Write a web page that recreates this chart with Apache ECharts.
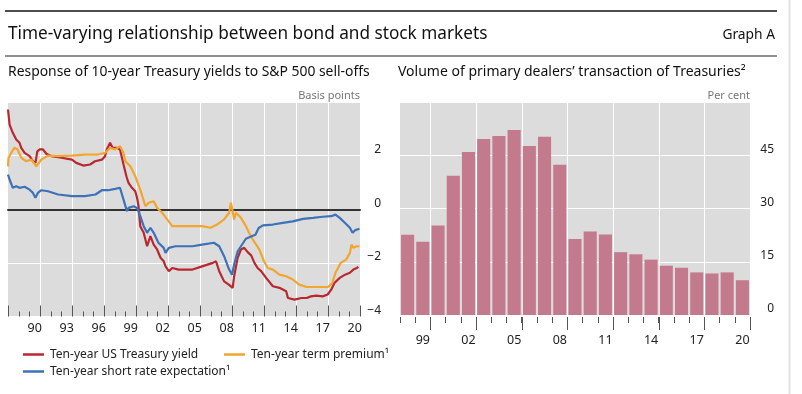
<!DOCTYPE html>
<html><head><meta charset="utf-8">
<script src="https://cdn.jsdelivr.net/npm/echarts@6/dist/echarts.min.js"></script>
<style>html,body{margin:0;padding:0;background:#fff}#c{width:802px;height:394px}</style>
</head><body><div id="c"></div><script>
// ---- Left panel data: [year, basis points] ----
const treasuryYield = [[1988.0,3.72],[1988.15,3.16],[1988.45,2.85],[1988.77,2.6],[1989.08,2.48],[1989.24,2.29],[1989.56,2.1],[1990.03,1.98],[1990.34,1.79],[1990.57,1.73],[1990.75,2.16],[1990.97,2.23],[1991.28,2.23],[1991.6,2.07],[1992.08,1.98],[1993.0,1.92],[1994.0,1.85],[1994.4,1.73],[1995.06,1.63],[1995.7,1.67],[1996.16,1.79],[1996.8,1.85],[1997.1,1.98],[1997.26,2.23],[1997.57,2.48],[1997.8,2.29],[1998.2,2.29],[1998.5,2.23],[1998.83,1.67],[1999.1,1.23],[1999.3,0.98],[1999.62,0.8],[1999.93,0.67],[2000.1,0.43],[2000.24,0.11],[2000.4,-0.63],[2000.72,-0.88],[2001.04,-1.38],[2001.35,-1.0],[2001.66,-1.32],[2001.98,-1.5],[2002.3,-1.81],[2002.6,-1.94],[2002.77,-2.13],[2003.08,-2.31],[2003.4,-2.19],[2004.0,-2.25],[2005.3,-2.25],[2006.2,-2.13],[2007.2,-2.0],[2007.5,-1.94],[2007.8,-2.31],[2008.26,-2.69],[2008.7,-2.81],[2009.06,-2.93],[2009.2,-2.5],[2009.53,-1.81],[2009.84,-1.5],[2010.15,-1.44],[2010.47,-1.6],[2010.8,-1.72],[2011.1,-2.0],[2011.4,-2.19],[2011.73,-2.31],[2012.2,-2.56],[2012.83,-2.87],[2013.45,-2.93],[2014.08,-3.06],[2014.24,-3.31],[2014.87,-3.37],[2015.5,-3.31],[2016.0,-3.31],[2016.4,-3.25],[2016.9,-3.22],[2017.5,-3.25],[2017.97,-3.18],[2018.3,-3.0],[2018.6,-2.75],[2019.1,-2.56],[2019.6,-2.44],[2020.05,-2.37],[2020.38,-2.25],[2020.7,-2.19],[2020.85,-2.15]];
const termPremium = [[1988.0,1.6],[1988.05,1.92],[1988.3,2.1],[1988.6,2.29],[1988.9,2.23],[1989.25,1.92],[1989.7,1.79],[1990.2,1.85],[1990.66,1.6],[1991.13,1.85],[1991.75,2.0],[1992.7,1.98],[1994.0,2.0],[1995.2,2.04],[1996.47,2.04],[1997.1,2.1],[1997.57,2.29],[1998.05,2.23],[1998.5,2.35],[1998.83,2.1],[1999.0,1.79],[1999.47,1.6],[1999.93,1.23],[2000.4,0.73],[2000.88,0.11],[2001.2,0.24],[2001.66,0.3],[2001.98,0.05],[2002.45,-0.13],[2002.92,-0.38],[2003.4,-0.63],[2004.65,-0.63],[2006.2,-0.63],[2007.0,-0.69],[2007.6,-0.57],[2008.26,-0.38],[2008.73,-0.13],[2008.9,0.24],[2009.06,-0.07],[2009.2,-0.38],[2009.37,-0.13],[2009.84,-0.32],[2010.3,-0.63],[2010.6,-0.88],[2010.9,-1.1],[2011.56,-1.5],[2012.0,-1.94],[2012.36,-2.19],[2012.83,-2.25],[2013.45,-2.44],[2014.08,-2.5],[2014.7,-2.62],[2015.3,-2.81],[2016.0,-2.9],[2016.6,-2.9],[2017.2,-2.9],[2018.0,-2.9],[2018.4,-2.75],[2018.7,-2.37],[2019.2,-2.0],[2019.7,-1.88],[2020.05,-1.63],[2020.2,-1.32],[2020.38,-1.44],[2020.7,-1.38],[2020.95,-1.38]];
const shortRate = [[1988.0,1.29],[1988.15,1.11],[1988.45,0.8],[1988.77,0.86],[1989.08,0.8],[1989.56,0.84],[1990.03,0.73],[1990.34,0.61],[1990.57,0.43],[1990.8,0.61],[1991.13,0.71],[1991.75,0.67],[1992.7,0.55],[1994.0,0.49],[1995.2,0.49],[1996.2,0.55],[1996.8,0.71],[1997.4,0.71],[1998.05,0.76],[1998.5,0.8],[1998.83,0.36],[1999.15,-0.07],[1999.3,0.05],[1999.78,0.11],[2000.1,0.05],[2000.4,-0.26],[2000.72,-0.63],[2001.04,-0.88],[2001.35,-0.69],[2001.66,-0.88],[2002.1,-1.25],[2002.6,-1.44],[2002.77,-1.63],[2003.08,-1.44],[2003.7,-1.38],[2005.3,-1.38],[2006.2,-1.32],[2007.3,-1.25],[2007.8,-1.38],[2008.26,-1.75],[2008.73,-2.25],[2009.0,-2.44],[2009.2,-2.06],[2009.53,-1.57],[2009.84,-1.38],[2010.3,-1.1],[2010.9,-1.0],[2011.2,-0.95],[2011.5,-0.7],[2011.9,-0.6],[2012.83,-0.57],[2013.77,-0.51],[2014.7,-0.45],[2015.66,-0.36],[2016.6,-0.32],[2017.5,-0.28],[2018.3,-0.26],[2018.7,-0.2],[2019.1,-0.32],[2019.6,-0.51],[2020.05,-0.69],[2020.3,-0.88],[2020.55,-0.78],[2020.95,-0.73]];
// ---- Right panel data ----
const barYears = ['1998','1999','2000','2001','2002','2003','2004','2005','2006','2007','2008','2009','2010','2011','2012','2013','2014','2015','2016','2017','2018','2019','2020'];
const dealerVolume = [22.6,20.6,25.2,39.2,45.9,49.6,50.4,52.1,47.6,50.2,42.3,21.4,23.5,22.7,17.7,17.1,15.6,13.9,13.3,12.0,11.7,12.0,9.8];
// ---- Tick labels / tick positions ----
const leftYearLabels = [1990,1993,1996,1999,2002,2005,2008,2011,2014,2017,2020];
const leftMajorTicks = [1988,1991,1994,1997,2000,2003,2006,2009,2012,2015,2018,2021];
const leftMinorTicks = [1988,1989,1990,1991,1992,1993,1994,1995,1996,1997,1998,1999,2000,2001,2002,2003,2004,2005,2006,2007,2008,2009,2010,2011,2012,2013,2014,2015,2016,2017,2018,2019,2020,2021];
const rightLabelYears = ['1999','2002','2005','2008','2011','2014','2017','2020'];
const rightMajorBounds = [2,5,8,11,14,17,20,23];

const FONT = 'Noto Sans';
const fmtNeg = v => (v < 0 ? '\u2212' + (-v) : String(v));
const chart = echarts.init(document.getElementById('c'), null, {renderer: 'canvas'});
const names = ['Ten-year US Treasury yield', 'Ten-year term premium\u00b9', 'Ten-year short rate expectation\u00b9'];
const lg = (name, left, top) => ({
  data: [name], left: left, top: top, orient: 'horizontal', selectedMode: false,
  icon: 'rect', itemWidth: 21, itemHeight: 2.5, itemGap: 0,
  textStyle: {fontFamily: FONT, fontSize: 12, color: '#222', padding: [0, 0, 0, 1]}
});
const baseX = {type: 'value', gridIndex: 0, min: 1988, max: 2021, position: 'bottom',
  axisLine: {show: false, onZero: false}, axisLabel: {show: false}, splitLine: {show: false}, axisTick: {show: false}};

const staticGraphics = [
  {type: 'line', shape: {x1: 5, y1: 11, x2: 777, y2: 11}, style: {stroke: '#111', lineWidth: 1.5}},
  {type: 'text', x: 8, y: 34, style: {text: 'Time-varying relationship between bond and stock markets', fontFamily: FONT, fontSize: 17.2, fill: '#111', textVerticalAlign: 'middle'}},
  {type: 'text', x: 775, y: 35, style: {text: 'Graph A', fontFamily: FONT, fontSize: 13.8, fill: '#111', textAlign: 'right', textVerticalAlign: 'middle'}},
  {type: 'line', shape: {x1: 5, y1: 56, x2: 777, y2: 56}, style: {stroke: '#222', lineWidth: 1}},
  {type: 'text', x: 8, y: 72, style: {text: 'Response of 10-year Treasury yields to S&P 500 sell-offs', fontFamily: FONT, fontSize: 13.9, fill: '#111', textVerticalAlign: 'middle'}},
  {type: 'text', x: 398, y: 72, style: {text: 'Volume of primary dealers\u2019 transaction of Treasuries\u00b2', fontFamily: FONT, fontSize: 14, fill: '#111', textVerticalAlign: 'middle'}},
  {type: 'text', x: 360, y: 96, style: {text: 'Basis points', fontFamily: FONT, fontSize: 11, fill: '#777', textAlign: 'right', textVerticalAlign: 'middle'}},
  {type: 'text', x: 750, y: 96, style: {text: 'Per cent', fontFamily: FONT, fontSize: 11, fill: '#777', textAlign: 'right', textVerticalAlign: 'middle'}},
  {type: 'line', shape: {x1: 789.5, y1: 0, x2: 789.5, y2: 394}, style: {stroke: '#E2E2E2', lineWidth: 2}}
];

chart.setOption({
  animation: false,
  textStyle: {fontFamily: FONT},
  grid: [
    {left: 8, right: 442, top: 102, bottom: 77.5, show: true, backgroundColor: '#DCDCDC', borderWidth: 0},
    {left: 400, right: 52, top: 102, bottom: 79, show: true, backgroundColor: '#DCDCDC', borderWidth: 0}
  ],
  xAxis: [
    Object.assign({}, baseX),
    Object.assign({}, baseX, {axisLabel: {show: true, customValues: leftYearLabels.map(y => y + 0.5), margin: 5,
      formatter: v => String(Math.floor(v)).slice(2), color: '#222', fontSize: 12.5}}),
    Object.assign({}, baseX, {z: 1.5, axisLine: {show: true, onZero: true, lineStyle: {color: '#333', width: 2}}}),
    {type: 'category', gridIndex: 1, data: barYears, boundaryGap: true, position: 'bottom', offset: 2,
      axisLine: {show: false, onZero: false},
      axisTick: {show: true, interval: 0, length: 6, lineStyle: {color: '#555'}},
      axisLabel: {show: true, interval: (i, v) => rightLabelYears.indexOf(v) >= 0, formatter: v => v.slice(2), margin: 17, color: '#222', fontSize: 12.5},
      splitLine: {show: false}}
  ],
  yAxis: [
    {type: 'value', gridIndex: 0, min: -4, max: 4, interval: 2, position: 'right',
      axisLine: {show: false, onZero: false}, axisTick: {show: false},
      splitLine: {show: true, lineStyle: {color: '#fff', width: 1}},
      axisLabel: {align: 'right', verticalAlign: 'bottom', margin: 21, color: '#222', fontSize: 12,
        formatter: v => (v === 4 ? '' : fmtNeg(v))}},
    {type: 'value', gridIndex: 1, min: 0, max: 60, interval: 15, position: 'right',
      axisLine: {show: false, onZero: false}, axisTick: {show: false},
      splitLine: {show: true, lineStyle: {color: '#fff', width: 1}},
      axisLabel: {align: 'right', verticalAlign: 'bottom', margin: 24, color: '#222', fontSize: 12,
        formatter: v => (v === 60 ? '' : String(v))}}
  ],
  legend: [lg(names[0], 18, 343.5), lg(names[1], 219, 343.5), lg(names[2], 18, 360.5)],
  series: [
    {name: names[0], type: 'line', xAxisIndex: 0, yAxisIndex: 0, z: 2, data: treasuryYield, showSymbol: false, color: '#B8282E', lineStyle: {width: 2.2, color: '#B8282E'}},
    {name: names[1], type: 'line', xAxisIndex: 0, yAxisIndex: 0, z: 2, data: termPremium, showSymbol: false, color: '#F2A52F', lineStyle: {width: 2.2, color: '#F2A52F'}},
    {name: names[2], type: 'line', xAxisIndex: 0, yAxisIndex: 0, z: 2, data: shortRate, showSymbol: false, color: '#3E72B8', lineStyle: {width: 2.2, color: '#3E72B8'}},
    {name: 'Volume', type: 'bar', xAxisIndex: 3, yAxisIndex: 1, z: 2, data: dealerVolume, barCategoryGap: '14%', itemStyle: {color: '#C47A8D'}}
  ],
  graphic: staticGraphics
});

// Tick marks and vertical grid lines, positioned through the chart's own axis scales
const gfx = [];
try {
  const L = {xAxisIndex: 0, yAxisIndex: 0};
  const leftFirst = leftMinorTicks[0], leftLast = leftMinorTicks[leftMinorTicks.length - 1];
  leftMinorTicks.forEach(yr => {
    const pb = chart.convertToPixel(L, [yr, -4]);
    const pt = chart.convertToPixel(L, [yr, 4]);
    const x = Math.round(pb[0]) + 0.5;
    const major = leftMajorTicks.indexOf(yr) >= 0;
    if (major && yr > leftFirst && yr < leftLast) {
      gfx.push({type: 'line', z: 1, silent: true, shape: {x1: x, y1: pt[1], x2: x, y2: pb[1]}, style: {stroke: '#fff', lineWidth: 1}});
    }
    gfx.push({type: 'line', z: 3, silent: true, shape: {x1: x, y1: pb[1], x2: x, y2: pb[1] - (major ? 11 : 5)}, style: {stroke: '#555', lineWidth: 1}});
  });
  const R = {xAxisIndex: 3, yAxisIndex: 1};
  const p0 = chart.convertToPixel(R, [barYears[0], 0]);
  const p1 = chart.convertToPixel(R, [barYears[1], 0]);
  const top = chart.convertToPixel(R, [barYears[0], 60])[1];
  const bw = p1[0] - p0[0];
  rightMajorBounds.forEach(b => {
    const x = Math.round(p0[0] - bw / 2 + b * bw) + 0.5;
    if (b < barYears.length) gfx.push({type: 'line', z: 1, silent: true, shape: {x1: x, y1: top, x2: x, y2: p0[1]}, style: {stroke: '#fff', lineWidth: 1}});
    gfx.push({type: 'line', z: 3, silent: true, shape: {x1: x, y1: p0[1] + 2, x2: x, y2: p0[1] + 15}, style: {stroke: '#555', lineWidth: 1}});
  });
} catch (e) { /* keep chart without extra tick marks */ }
chart.setOption({graphic: staticGraphics.concat(gfx)});
</script></body></html>
